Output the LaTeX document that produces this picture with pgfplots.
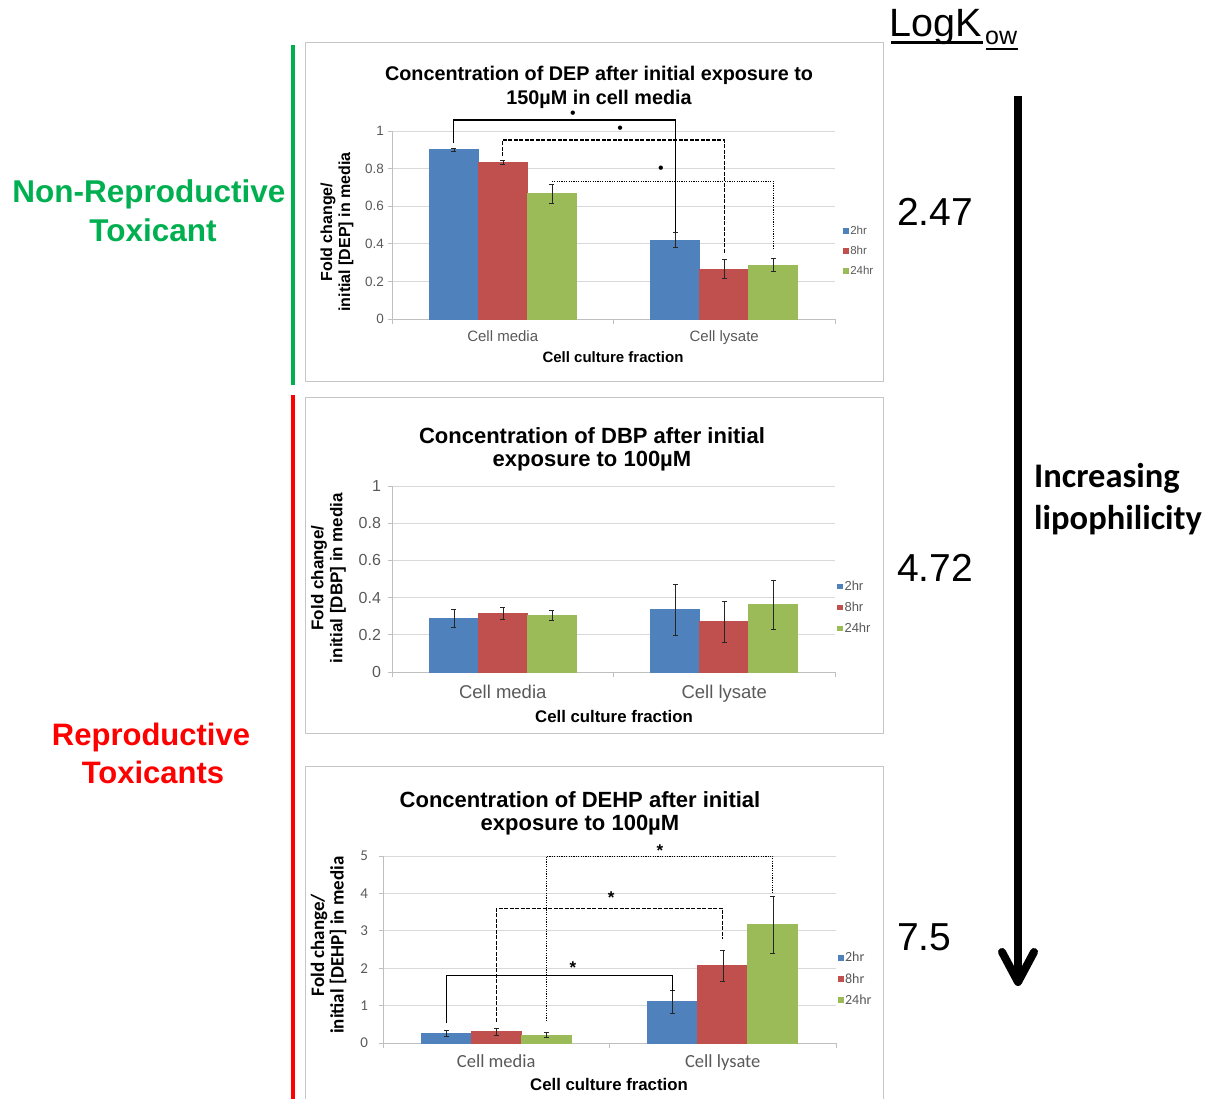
\documentclass[border=0pt]{standalone}
\usepackage{pgfplots}
\pgfplotsset{compat=1.18}
\usepackage{fontspec}
\setmainfont{Liberation Sans}
\newfontfamily\calibri{Carlito}
\definecolor{xblue}{HTML}{4F81BD}
\definecolor{xred}{HTML}{C0504D}
\definecolor{xgreen}{HTML}{9BBB59}
\definecolor{tickgray}{HTML}{595959}
\definecolor{gridgray}{HTML}{D9D9D9}
\definecolor{axgray}{HTML}{BFBFBF}
\definecolor{framegray}{HTML}{C6C6C6}
\definecolor{nrgreen}{HTML}{00B050}
\definecolor{rred}{HTML}{FF0000}
\newcommand{\fs}[1]{\fontsize{#1}{#1}\selectfont}
\pgfplotsset{
  excel/.style={
    scale only axis, anchor=south west, clip=false,
    xmin=-0.5, xmax=1.5, ymin=0,
    xtick={-0.5,0.5,1.5}, xticklabels={,,},
    extra x ticks={0,1}, extra x tick labels={Cell media,Cell lysate},
    extra x tick style={major tick length=0pt},
    axis x line*=bottom, axis y line*=left,
    axis line style={draw=axgray, line width=0.8pt},
    ymajorgrids, grid style={draw=gridgray, line width=0.8pt},
    tick align=outside, major tick length=4.5pt,
    tick style={draw=axgray, line width=0.8pt},
    ticklabel style={text=tickgray},
    /pgf/number format/assume math mode=true,
    legend cell align=left,
  },
  ebar/.style={ybar, bar width=0.2212, bar shift=0pt, draw=#1, line width=0pt, fill=#1,
    legend image code/.code={\fill[##1,draw=none] (0pt,-2.8pt) rectangle (5.6pt,2.8pt);}},
  eb/.style={forget plot, draw=none, mark=none,
    error bars/.cd, y dir=both, y explicit, error mark=none,
    error bar style={draw=black!85, line width=0.5pt}},
  cap/.style={forget plot, draw=none, mark=none,
    error bars/.cd, x dir=both, x fixed=0.011, error mark=none,
    error bar style={draw=black!85, line width=0.6pt}},
}
\begin{document}
\begin{tikzpicture}
\path[use as bounding box] (0pt,0pt) rectangle (1215pt,-1099pt);

% ---------------- DEP ----------------
\begin{axis}[excel, at={(392pt,-319pt)}, width=443pt, height=188pt,
  ymax=1, ytick={0,0.2,0.4,0.6,0.8,1},
  yticklabel style={font=\fs{13.5}},
  xticklabel style={font=\fs{15}, yshift=-8pt},
  legend style={at={(1.018,0.495)}, anchor=north west, draw=none, fill=none,
    inner sep=0pt, font=\fs{11.5}, row sep=10pt,
    nodes={inner xsep=1.5pt, inner ysep=0pt, text=tickgray}}]
\addplot[ebar=xblue] coordinates {(-0.2212,0.90) (0.7788,0.42)};
\addplot[ebar=xred] coordinates {(0,0.835) (1,0.265)};
\addplot[ebar=xgreen] coordinates {(0.2212,0.665) (1.2212,0.287)};
\legend{2hr,8hr,24hr}
\addplot[eb] coordinates {(-0.2212,0.90) +- (0,0.01) (0.7788,0.42) +- (0,0.04)
  (0,0.835) +- (0,0.01) (1,0.265) +- (0,0.05)
  (0.2212,0.665) +- (0,0.05) (1.2212,0.287) +- (0,0.035)};
\addplot[cap] coordinates {(-0.2212,0.91) (-0.2212,0.89) (0.7788,0.46) (0.7788,0.38)
  (0,0.845) (0,0.825) (1,0.315) (1,0.215)
  (0.2212,0.715) (0.2212,0.615) (1.2212,0.322) (1.2212,0.252)};
\draw[black, line width=1.3pt] (axis cs:-0.2212,0.936) -- (axis cs:-0.2212,1.058) -- (axis cs:0.7788,1.058) -- (axis cs:0.7788,0.463);
\draw[black, line width=1.3pt, dash pattern=on 4pt off 1.5pt] (axis cs:0,0.865) -- (axis cs:0,0.952) -- (axis cs:1,0.952) -- (axis cs:1,0.35);
\draw[black, line width=0.9pt, dash pattern=on 1.2pt off 1.2pt] (axis cs:0.2212,0.732) -- (axis cs:1.2212,0.732) -- (axis cs:1.2212,0.37);
\node[font=\fs{16}, inner sep=0pt] at (axis cs:0.317,1.085) {•};
\node[font=\fs{16}, inner sep=0pt] at (axis cs:0.53,1.005) {•};
\node[font=\fs{16}, inner sep=0pt] at (axis cs:0.714,0.792) {•};
\end{axis}

% ---------------- DBP ----------------
\begin{axis}[excel, at={(392pt,-672pt)}, width=443pt, height=186pt,
  ymax=1, ytick={0,0.2,0.4,0.6,0.8,1},
  yticklabel style={font=\fs{16}, xshift=-3pt},
  xticklabel style={font=\fs{18.5}, yshift=-10pt},
  legend style={at={(1.005,0.49)}, anchor=north west, draw=none, fill=none,
    inner sep=0pt, font=\fs{13}, row sep=10pt,
    nodes={inner xsep=1.5pt, inner ysep=0pt, text=tickgray}}]
\addplot[ebar=xblue] coordinates {(-0.2212,0.289) (0.7788,0.334)};
\addplot[ebar=xred] coordinates {(0,0.316) (1,0.27)};
\addplot[ebar=xgreen] coordinates {(0.2212,0.304) (1.2212,0.362)};
\legend{2hr,8hr,24hr}
\addplot[eb] coordinates {(-0.2212,0.289) +- (0,0.049) (0.7788,0.334) +- (0,0.136)
  (0,0.316) +- (0,0.03) (1,0.27) +- (0,0.11)
  (0.2212,0.304) +- (0,0.027) (1.2212,0.362) +- (0,0.13)};
\addplot[cap] coordinates {(-0.2212,0.338) (-0.2212,0.240) (0.7788,0.470) (0.7788,0.198)
  (0,0.346) (0,0.286) (1,0.38) (1,0.16)
  (0.2212,0.331) (0.2212,0.277) (1.2212,0.492) (1.2212,0.232)};
\end{axis}

% ---------------- DEHP ----------------
\begin{axis}[excel, at={(383pt,-1043pt)}, width=453pt, height=187pt,
  ymax=5, ytick={0,1,2,3,4,5},
  yticklabel style={font=\calibri\fs{15}, xshift=-7pt},
  xticklabel style={font=\calibri\fs{18.5}, yshift=-8pt},
  legend style={at={(1.004,0.487)}, anchor=north west, draw=none, fill=none,
    inner sep=0pt, font=\calibri\fs{14}, row sep=10pt,
    nodes={inner xsep=1.5pt, inner ysep=0pt, text=tickgray}}]
\addplot[ebar=xblue] coordinates {(-0.2212,0.257) (0.7788,1.10)};
\addplot[ebar=xred] coordinates {(0,0.30) (1,2.06)};
\addplot[ebar=xgreen] coordinates {(0.2212,0.21) (1.2212,3.16)};
\legend{2hr,8hr,24hr}
\addplot[eb] coordinates {(-0.2212,0.257) +- (0,0.08) (0.7788,1.10) +- (0,0.30)
  (0,0.30) +- (0,0.09) (1,2.06) +- (0,0.42)
  (0.2212,0.21) +- (0,0.07) (1.2212,3.16) +- (0,0.76)};
\addplot[cap] coordinates {(-0.2212,0.337) (-0.2212,0.177) (0.7788,1.40) (0.7788,0.80)
  (0,0.39) (0,0.21) (1,2.48) (1,1.64)
  (0.2212,0.28) (0.2212,0.14) (1.2212,3.92) (1.2212,2.40)};
\draw[black, line width=1.3pt] (axis cs:-0.2212,0.53) -- (axis cs:-0.2212,1.81) -- (axis cs:0.7788,1.81) -- (axis cs:0.7788,1.39);
\draw[black, line width=1.3pt, dash pattern=on 4pt off 1.5pt] (axis cs:0,0.575) -- (axis cs:0,3.6) -- (axis cs:1,3.6) -- (axis cs:1,2.77);
\draw[black, line width=0.9pt, dash pattern=on 1.2pt off 1.2pt] (axis cs:0.2212,0.59) -- (axis cs:0.2212,5.0) -- (axis cs:1.2212,5.0) -- (axis cs:1.2212,4.04);
\node[font=\bfseries\fs{17}, inner sep=0pt] at (axis cs:0.339,2.02) {*};
\node[font=\bfseries\fs{17}, inner sep=0pt] at (axis cs:0.507,3.9) {*};
\node[font=\bfseries\fs{17}, inner sep=0pt] at (axis cs:0.723,5.13) {*};
\end{axis}

\begin{scope}[x=1pt, y=-1pt]
% frames
\draw[framegray, line width=1pt] (305.5,42.5) rectangle (883.5,381.5);
\draw[framegray, line width=1pt] (305.5,397.5) rectangle (883.5,733.5);
\draw[framegray, line width=1pt] (305.5,1099) -- (305.5,766.5) -- (883.5,766.5) -- (883.5,1099);
% titles
\node[font=\bfseries\fs{19.8}, inner sep=1pt] at (599,75) {Concentration of DEP after initial exposure to};
\node[font=\bfseries\fs{19.8}, inner sep=1pt] at (599,99) {150µM in cell media};
\node[font=\bfseries\fs{22}, inner sep=1pt] at (592,436) {Concentration of DBP after initial};
\node[font=\bfseries\fs{22}, inner sep=1pt] at (592,461) {exposure to 100µM};
\node[font=\bfseries\fs{22}, inner sep=1pt] at (580,800) {Concentration of DEHP after initial};
\node[font=\bfseries\fs{22}, inner sep=1pt] at (580,825) {exposure to 100µM};
% x titles
\node[font=\bfseries\fs{15}] at (613,357) {Cell culture fraction};
\node[font=\bfseries\fs{16.8}] at (614,716) {Cell culture fraction};
\node[font=\bfseries\fs{16.8}] at (609,1084) {Cell culture fraction};
% y titles
\node[rotate=90, font=\bfseries\fs{16}] at (328,232) {Fold change/};
\node[rotate=90, font=\bfseries\fs{16}] at (346,232) {initial [DEP] in media};
\node[rotate=90, font=\bfseries\fs{17}] at (319,578) {Fold change/};
\node[rotate=90, font=\bfseries\fs{17}] at (338,578) {initial [DBP] in media};
\node[rotate=90, font=\calibri\bfseries\fs{19}] at (319,945) {Fold change/};
\node[rotate=90, font=\calibri\bfseries\fs{19}] at (338,945) {initial [DEHP] in media};
% side bars and labels
\draw[nrgreen, line width=4pt] (293,45) -- (293,385);
\draw[rred, line width=4pt] (293,395) -- (293,1099);
\node[anchor=base, inner sep=0pt, font=\bfseries\fs{31.5}, text=nrgreen] at (149,203) {Non-Reproductive};
\node[anchor=base, inner sep=0pt, font=\bfseries\fs{31.5}, text=nrgreen] at (153,242) {Toxicant};
\node[anchor=base, inner sep=0pt, font=\bfseries\fs{31}, text=rred] at (151,745) {Reproductive};
\node[anchor=base, inner sep=0pt, font=\bfseries\fs{31}, text=rred] at (153,783) {Toxicants};
% LogKow
\node[anchor=base west, inner sep=0pt, font=\fs{39.5}] at (889,37) {LogK};
\node[anchor=base west, inner sep=0pt, font=\fs{25}] at (985,45) {ow};
\draw[line width=2.5pt] (891,42.5) -- (983,42.5);
\draw[line width=2pt] (986,49.5) -- (1018,49.5);
% values
\node[anchor=base west, inner sep=0pt, font=\fs{39}] at (897,226) {2.47};
\node[anchor=base west, inner sep=0pt, font=\fs{39}] at (897,581) {4.72};
\node[anchor=base west, inner sep=0pt, font=\fs{39}] at (897,950) {7.5};
% arrow
\draw[line width=8pt] (1018,96) -- (1018,975);
\draw[line width=8pt, line cap=round, line join=round] (1002,952) -- (1018,982) -- (1034,952);
\node[anchor=base west, inner sep=0pt, font=\calibri\bfseries\fs{34.5}] at (1034,487) {Increasing};
\node[anchor=base west, inner sep=0pt, font=\calibri\bfseries\fs{34.5}] at (1034,529) {lipophilicity};
\end{scope}
\end{tikzpicture}
\end{document}
